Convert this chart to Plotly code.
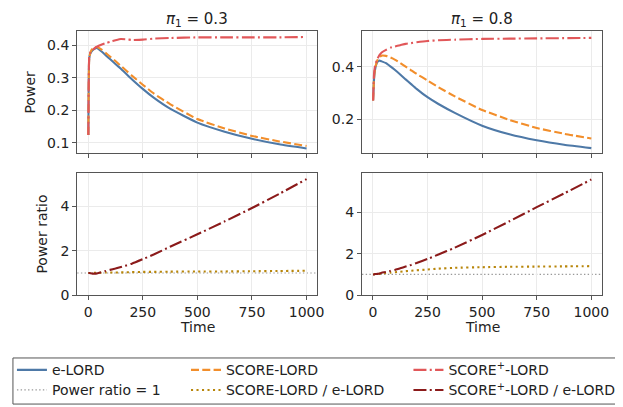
import plotly.graph_objects as go

# ---------------- data ----------------
time = [1, 5, 10, 20, 30, 40, 60, 80, 100, 125, 150, 175, 200, 250, 300, 375, 500, 625, 750, 875, 1000]

# pi_1 = 0.3
elord_03 = [0.124, 0.360, 0.375, 0.385, 0.390, 0.392, 0.382, 0.370, 0.358, 0.343, 0.328, 0.312, 0.296, 0.266, 0.239, 0.205, 0.162, 0.134, 0.112, 0.095, 0.082]
score_03 = [0.124, 0.360, 0.378, 0.390, 0.395, 0.395, 0.388, 0.377, 0.366, 0.352, 0.337, 0.322, 0.307, 0.279, 0.252, 0.219, 0.173, 0.144, 0.121, 0.104, 0.090]
scorep_03 = [0.124, 0.365, 0.378, 0.385, 0.392, 0.396, 0.402, 0.407, 0.411, 0.416, 0.420, 0.419, 0.417, 0.418, 0.421, 0.423, 0.425, 0.425, 0.425, 0.425, 0.426]
ratio_s_03 = [1.00, 1.00, 1.00, 1.01, 1.01, 1.01, 1.01, 1.02, 1.02, 1.02, 1.03, 1.03, 1.04, 1.05, 1.05, 1.06, 1.07, 1.07, 1.08, 1.09, 1.10]
ratio_sp_03 = [1.00, 1.00, 0.99, 0.97, 0.97, 0.98, 1.03, 1.09, 1.14, 1.20, 1.27, 1.34, 1.42, 1.62, 1.83, 2.18, 2.74, 3.32, 3.92, 4.56, 5.22]

# pi_1 = 0.8
elord_08 = [0.271, 0.350, 0.390, 0.418, 0.424, 0.421, 0.414, 0.402, 0.389, 0.371, 0.352, 0.334, 0.316, 0.284, 0.258, 0.224, 0.175, 0.142, 0.119, 0.102, 0.089]
score_08 = [0.271, 0.355, 0.395, 0.425, 0.437, 0.443, 0.442, 0.436, 0.428, 0.415, 0.401, 0.387, 0.373, 0.348, 0.322, 0.287, 0.235, 0.197, 0.166, 0.144, 0.126]
scorep_08 = [0.271, 0.370, 0.405, 0.430, 0.445, 0.455, 0.465, 0.473, 0.478, 0.483, 0.488, 0.491, 0.494, 0.499, 0.502, 0.504, 0.507, 0.508, 0.509, 0.510, 0.511]
ratio_s_08 = [1.00, 1.01, 1.01, 1.02, 1.03, 1.05, 1.07, 1.09, 1.11, 1.13, 1.16, 1.18, 1.20, 1.24, 1.28, 1.32, 1.35, 1.37, 1.38, 1.39, 1.40]
ratio_sp_08 = [0.99, 1.00, 1.02, 1.03, 1.05, 1.08, 1.12, 1.17, 1.22, 1.30, 1.38, 1.46, 1.55, 1.75, 1.96, 2.29, 2.90, 3.56, 4.24, 4.90, 5.57]

ref_ratio = 1.0
x_ticks = [0, 250, 500, 750, 1000]
titles = ["<i>π</i><sub>1</sub> = 0.3", "<i>π</i><sub>1</sub> = 0.8"]

# ---------------- styles ----------------
FONT = "DejaVu Sans"
FS = 14
C_E = "#4E79A7"
C_S = "#F28E2B"
C_SP = "#E15759"
C_RS = "#B8860B"
C_RSP = "#8B1A1A"
LW = 2.1
DASH = "8px,3.3px"
DASHDOT = "13px,3.3px,2px,3.3px"
DOT = "2.1px,3.4px"

fig = go.Figure()

def add(x, y, ax, name, color, dash, legend, show):
    fig.add_trace(go.Scatter(
        x=x, y=y, xaxis="x" + ax, yaxis="y" + ax, mode="lines", name=name,
        line=dict(color=color, width=LW, dash=dash, shape="spline", smoothing=0.4),
        legend=legend, showlegend=show))

# top-left
add(time, elord_03, "", "e-LORD", C_E, "solid", "legend", True)
add(time, score_03, "", "SCORE-LORD", C_S, DASH, "legend2", True)
add(time, scorep_03, "", "SCORE<sup>+</sup>-LORD", C_SP, DASHDOT, "legend3", True)
# top-right
add(time, elord_08, "2", "e-LORD", C_E, "solid", "legend", False)
add(time, score_08, "2", "SCORE-LORD", C_S, DASH, "legend2", False)
add(time, scorep_08, "2", "SCORE<sup>+</sup>-LORD", C_SP, DASHDOT, "legend3", False)
# legend-only entry for the reference line
fig.add_trace(go.Scatter(x=[None], y=[None], xaxis="x3", yaxis="y3", mode="lines",
                         name="Power ratio = 1", line=dict(color="#999999", width=1.2, dash="1.4px,2.3px"),
                         legend="legend4", showlegend=True))
# bottom-left
add(time, ratio_s_03, "3", "SCORE-LORD / e-LORD", C_RS, DOT, "legend5", True)
add(time, ratio_sp_03, "3", "SCORE<sup>+</sup>-LORD / e-LORD", C_RSP, DASHDOT, "legend6", True)
# bottom-right
add(time, ratio_s_08, "4", "SCORE-LORD / e-LORD", C_RS, DOT, "legend5", False)
add(time, ratio_sp_08, "4", "SCORE<sup>+</sup>-LORD / e-LORD", C_RSP, DASHDOT, "legend6", False)

W, H = 623, 407
def px_x(a, b):
    return [a / W, b / W]
def px_y(top, bottom):
    return [1 - bottom / H, 1 - top / H]

xl = px_x(70, 313)
xr = px_x(358, 601)
yt = px_y(23, 148)
yb = px_y(168, 293)

axis_common = dict(showline=True, mirror=True, linecolor="#555555", linewidth=1.1,
                   ticks="outside", ticklen=4, tickwidth=1.1, tickcolor="#555555",
                   showgrid=True, gridcolor="#ebebeb", gridwidth=0.8, zeroline=False,
                   tickfont=dict(family=FONT, size=FS, color="#222222"))
xcommon = dict(axis_common, range=[-50, 1050], tickvals=x_ticks)

fig.update_layout(
    width=W, height=H, margin=dict(l=0, r=0, t=0, b=0),
    paper_bgcolor="white", plot_bgcolor="white",
    font=dict(family=FONT, size=FS, color="#222222"),
    xaxis=dict(xcommon, domain=xl, anchor="y", showticklabels=False),
    yaxis=dict(axis_common, domain=yt, anchor="x", range=[0.068, 0.446], tickvals=[0.1, 0.2, 0.3, 0.4], ticktext=["0.1", "0.2", "0.3", "0.4"]),
    xaxis2=dict(xcommon, domain=xr, anchor="y2", showticklabels=False),
    yaxis2=dict(axis_common, domain=yt, anchor="x2", range=[0.07, 0.539], tickvals=[0.2, 0.4], ticktext=["0.2", "0.4"]),
    xaxis3=dict(xcommon, domain=xl, anchor="y3"),
    yaxis3=dict(axis_common, domain=yb, anchor="x3", range=[0, 5.51], tickvals=[0, 2, 4]),
    xaxis4=dict(xcommon, domain=xr, anchor="y4"),
    yaxis4=dict(axis_common, domain=yb, anchor="x4", range=[0, 5.9], tickvals=[0, 2, 4]),
)

# reference line y=1 in ratio panels
for xa, ya in (("x3", "y3"), ("x4", "y4")):
    fig.add_shape(type="line", xref=xa + " domain", x0=0, x1=1, yref=ya, y0=ref_ratio, y1=ref_ratio,
                  line=dict(color="#999999", width=1.2, dash="1.4px,2.3px"), layer="below")

# legend frame
fig.add_shape(type="rect", xref="paper", yref="paper", x0=5 / W, x1=621.5 / W, y0=1 - 404 / H, y1=1 - 357 / H,
              line=dict(color="#555555", width=1), fillcolor="rgba(0,0,0,0)")

leg_font = dict(family=FONT, size=FS, color="#222222")
cols = [5, 181, 406]
rows = [369.5, 390]
legend_pos = {"legend": (0, 0), "legend2": (1, 0), "legend3": (2, 0),
              "legend4": (0, 1), "legend5": (1, 1), "legend6": (2, 1)}
for key, (c, r) in legend_pos.items():
    fig.update_layout({key: dict(x=(cols[c] - 1) / W, y=1 - rows[r] / H, xanchor="left", yanchor="middle",
                                 bgcolor="rgba(0,0,0,0)", borderwidth=0, font=leg_font,
                                 itemwidth=30, tracegroupgap=0)})

# annotations: titles and axis labels
def ann(text, x, y, angle=0, size=FS, yanchor="middle"):
    fig.add_annotation(text=text, xref="paper", yref="paper", x=x / W, y=1 - y / H,
                       showarrow=False, textangle=angle, xanchor="center", yanchor=yanchor,
                       font=dict(family=FONT, size=size, color="#222222"))

ann(titles[0], 191.5, 0, size=15, yanchor="top")
ann(titles[1], 479.5, 0, size=15, yanchor="top")
ann("Power", 22, 85.5, -90)
ann("Power ratio", 34, 230.5, -90)
ann("Time", 191.5, 325)
ann("Time", 479.5, 325)

fig.write_html("out.html")
